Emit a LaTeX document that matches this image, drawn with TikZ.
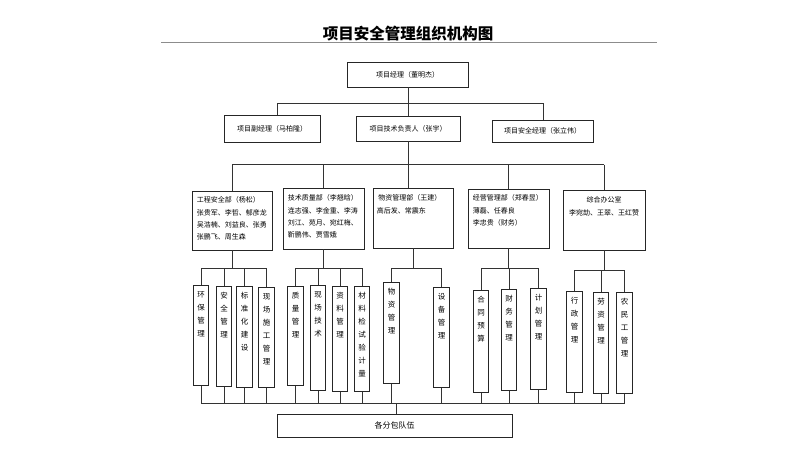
\documentclass[tikz,border=0pt]{standalone}
\usepackage{fontspec}
\setmainfont{Noto Sans CJK SC}
\newcommand\mkvb[5]{%
  \node[box, minimum width=15.5pt, minimum height={#4-#3}, anchor=north] (#1) at (#2,#3) {};
  \node[vtxt, anchor=north] (#1t) at ([yshift=-6pt]#1.north) {#5};
}
\begin{document}
\begin{tikzpicture}[x=1pt,y=-1pt,
  box/.style={draw=black!85, line width=0.7pt, inner sep=0pt, fill=white},
  ln/.style={draw=black!80, line width=0.7pt},
  btxt/.style={font=\fontsize{7}{9}\selectfont},
  dtxt/.style={font=\fontsize{7}{12.3}\selectfont, inner sep=0pt, align=left},
  vtxt/.style={font=\fontsize{7.5}{13}\selectfont, inner sep=0pt, align=center}]
\fill[white] (0,0) rectangle (810,453);
\useasboundingbox (0,0) rectangle (810,453);

% title
\draw[black!45, line width=0.6pt] (161,42) coordinate (tl1) -- (657,42) coordinate (tl2);
\node[font=\fontsize{15.5}{17}\selectfont\bfseries, inner sep=0pt] (title) at (408,34) {项目安全管理组织机构图};

% top levels
\node[box, minimum width=121pt, minimum height=25pt, btxt] (pm) at (407.5,74.5) {项目经理（董明杰）};
\node[box, minimum width=96pt, minimum height=27pt, btxt] (dpm) at (272,128.5) {项目副经理（马柏隆）};
\node[box, minimum width=104pt, minimum height=25pt, btxt] (tech) at (408,128.5) {项目技术负责人（张宇）};
\node[box, minimum width=101pt, minimum height=22pt, btxt] (safe) at (542.5,131) {项目安全经理（张立伟）};

\coordinate (bus0) at (0,103);
\coordinate (bus1) at (0,164.5);
\coordinate (trunk) at (408,0);
\draw[ln] (pm.south -| trunk) -- (tech.north -| trunk);
\draw[ln] (277,103) coordinate (l0) -- (543,103) coordinate (r0);
\draw[ln] (l0) -- (l0 |- dpm.north);
\draw[ln] (r0) -- (r0 |- safe.north);

% departments
\node[box, minimum width=80pt, minimum height=59pt] (d1) at (232,220.5) {};
\node[box, minimum width=81pt, minimum height=61pt] (d2) at (323.5,218.5) {};
\node[box, minimum width=80pt, minimum height=60pt] (d3) at (413,218) {};
\node[box, minimum width=81pt, minimum height=59pt] (d4) at (508.5,218.5) {};
\node[box, minimum width=82pt, minimum height=60pt] (d5) at (604,220) {};

\node[dtxt, anchor=north west] (d1t) at ([shift={(5pt,-6pt)}]d1.north west)
  {工程安全部（杨松）\\张贵军、李哲、郁彦龙\\吴浩楠、刘益良、张勇\\张鹏飞、周生森};
\node[dtxt, anchor=north west] (d2t) at ([shift={(5pt,-7pt)}]d2.north west)
  {技术质量部（李翘晗）\\连志强、李金重、李涛\\刘江、苑月、宛红梅、\\靳鹏伟、贾雪娥};
\node[dtxt, anchor=north west] (d3t) at ([shift={(4pt,-7pt)}]d3.north west)
  {\ 物资管理部（王建）\\高后发、常震东};
\node[dtxt, anchor=north west] (d4t) at ([shift={(5pt,-6pt)}]d4.north west)
  {经营管理部（郑春昱）\\薄磊、任春良\\李忠贵（财务）};
\node[dtxt, anchor=north, align=center] (d5t) at ([yshift=-7pt]d5.north)
  {综合办公室\\李宛劼、王翠、王红赞};

\draw[ln] (tech.south -| trunk) -- (bus1 -| trunk);
\draw[ln] (bus1 -| d1.north) -- (bus1 -| d5.north);
\foreach \d in {d1,d2,d4,d5} \draw[ln] (bus1 -| \d.north) -- (\d.north);
\draw[ln] (bus1 -| trunk) -- (d3.north -| trunk);

% vertical boxes
\mkvb{v1}{201}{285}{385}{环\\保\\管\\理}
\mkvb{v2}{224}{286}{386}{安\\全\\管\\理}
\mkvb{v3}{244.5}{286}{387}{标\\准\\化\\建\\设}
\mkvb{v4}{266.5}{287}{387}{现\\场\\施\\工\\管\\理}
\mkvb{v5}{295.5}{286}{385}{质\\量\\管\\理}
\mkvb{v6}{318}{285}{390}{现\\场\\技\\术}
\mkvb{v7}{340}{286}{391}{资\\料\\管\\理}
\mkvb{v8}{362}{286}{391}{材\\料\\检\\试\\验\\计\\量}
\mkvb{v9}{391.5}{282}{383}{物\\资\\管\\理}
\mkvb{v10}{441.5}{287}{387}{设\\备\\管\\理}
\mkvb{v11}{481}{290}{392}{合\\同\\预\\算}
\mkvb{v12}{509}{289}{390}{财\\务\\管\\理}
\mkvb{v13}{538.5}{288}{389}{计\\划\\管\\理}
\mkvb{v14}{574.5}{291}{392}{行\\政\\管\\理}
\mkvb{v15}{601}{292}{393}{劳\\资\\管\\理}
\mkvb{v16}{624.5}{292}{393}{农\\民\\工\\管\\理}

% group brackets
\coordinate (g) at (0,268);
\coordinate (g5) at (0,270);
\draw[ln] (d1.south) -- (d1.south |- g);
\draw[ln] (g -| v1.north) -- (g -| v4.north);
\foreach \v in {v1,v2,v3,v4} \draw[ln] (g -| \v.north) -- (\v.north);
\draw[ln] (d2.south) -- (d2.south |- g);
\draw[ln] (g -| v5.north) -- (g -| v8.north);
\foreach \v in {v5,v6,v7,v8} \draw[ln] (g -| \v.north) -- (\v.north);
\draw[ln] (d3.south) -- (d3.south |- g);
\draw[ln] (g -| v9.north) -- (g -| v10.north);
\foreach \v in {v9,v10} \draw[ln] (g -| \v.north) -- (\v.north);
\draw[ln] (d4.south) -- (d4.south |- g);
\draw[ln] (g -| v11.north) -- (g -| v13.north);
\foreach \v in {v11,v12,v13} \draw[ln] (g -| \v.north) -- (\v.north);
\draw[ln] (d5.south) -- (d5.south |- g5);
\draw[ln] (g5 -| v14.north) -- (g5 -| v16.north);
\foreach \v in {v14,v15,v16} \draw[ln] (g5 -| \v.north) -- (\v.north);

% bottom bus
\coordinate (bb) at (0,403);
\node[box, minimum width=235pt, minimum height=23pt, font=\fontsize{8}{10}\selectfont] (sub) at (394.5,425.5) {各分包队伍};
\draw[ln] (bb -| v1.south) -- (bb -| v16.south);
\foreach \v in {v1,v2,v3,v4,v5,v6,v7,v8,v9,v10,v11,v12,v13,v14,v15,v16}
  \draw[ln] (\v.south) -- (bb -| \v.south);
\draw[ln] (bb -| 396,0) -- (sub.north -| 396,0);
\end{tikzpicture}
\end{document}
